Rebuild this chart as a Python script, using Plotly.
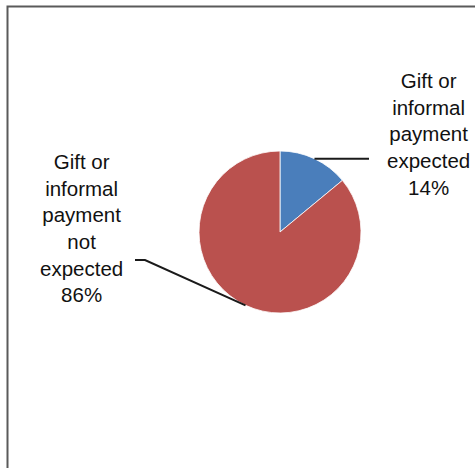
import math
import plotly.graph_objects as go

labels = ["Gift or informal payment expected", "Gift or informal payment not expected"]
values = [14, 86]
label_texts = ["Gift or<br>informal<br>payment<br>expected<br>14%",
               "Gift or<br>informal<br>payment<br>not<br>expected<br>86%"]
colors = ["#4A7EBB", "#BA514E"]

W, H = 475, 468
cx, cy, r = 280, 232, 81  # pie centre / radius in pixels

def px(x):
    return x / W

def py(y):
    return 1 - y / H

fig = go.Figure(go.Pie(
    labels=labels, values=values, sort=False, direction="clockwise", rotation=0,
    marker=dict(colors=colors, line=dict(color="white", width=0.8)),
    textinfo="none", hoverinfo="label+percent", showlegend=False,
    domain=dict(x=[px(cx - r), px(cx + r)], y=[py(cy + r), py(cy - r)]),
))

# mid-angles of slices (clockwise from 12 o'clock)
total = sum(values)
mids = []
acc = 0
for v in values:
    mids.append((acc + v / 2) / total * 2 * math.pi)
    acc += v
edge = [(cx + r * math.sin(a), cy - r * math.cos(a)) for a in mids]

# label anchor (elbow) points and label centres
elbows = [(369, edge[0][1]), (145, 260)]
ends = [(369, edge[0][1]), (135, 260)]
label_pos = [(428, 134), (81, 228)]

shapes = []
for i in range(2):
    ex, ey = edge[i]
    bx, by = elbows[i]
    tx, ty = ends[i]
    shapes.append(dict(type="path", xref="paper", yref="paper",
                       path=f"M{px(ex)},{py(ey)} L{px(bx)},{py(by)} L{px(tx)},{py(ty)}",
                       line=dict(color="#1a1a1a", width=2)))
shapes.append(dict(type="rect", xref="paper", yref="paper",
                   x0=px(7.5), y0=-0.05, x1=1.05, y1=py(6.5),
                   line=dict(color="#5a5a5a", width=2), fillcolor="rgba(0,0,0,0)"))

annotations = []
for t, (lx, ly) in zip(label_texts, label_pos):
    annotations.append(dict(text=t, x=px(lx), y=py(ly), xref="paper", yref="paper",
                            xanchor="center", yanchor="middle", align="center",
                            showarrow=False,
                            font=dict(family="Liberation Sans, Arial, sans-serif", size=20.5, color="#111111")))

fig.update_layout(width=W, height=H, margin=dict(l=0, r=0, t=0, b=0),
                  paper_bgcolor="white", plot_bgcolor="white",
                  shapes=shapes, annotations=annotations)

fig.write_html("out.html", config={"displayModeBar": False},
               post_script="document.body.style.margin='0';document.body.style.overflow='hidden';")
